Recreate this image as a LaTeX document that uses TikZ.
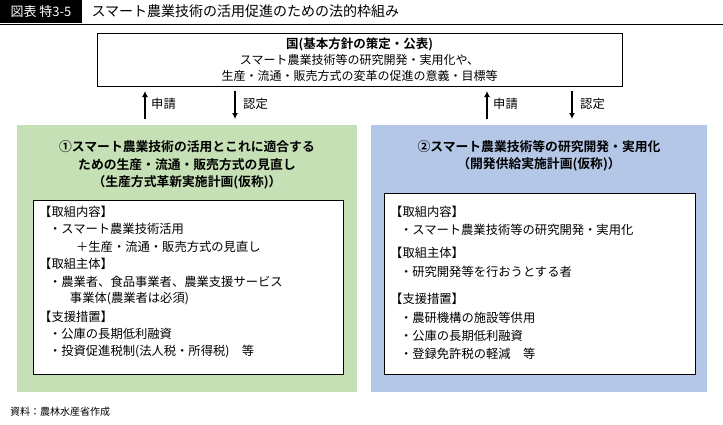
\documentclass[tikz,border=0pt]{standalone}
\usepackage{fontspec}
\setmainfont{Noto Sans CJK JP}
\newfontfamily\jpb{Noto Sans CJK JP Bold}
\definecolor{grn}{HTML}{C5E0B4}
\definecolor{blu}{HTML}{B4C7E7}
\begin{document}
\begin{tikzpicture}[x=1pt,y=-1pt,
  body/.style={anchor=west,font=\fontsize{12.3}{13}\selectfont,inner sep=0pt},
  ttl/.style={font=\jpb\fontsize{12.8}{17.5}\selectfont,align=center},
  arr/.style={-{Latex[length=6pt,width=6pt]},line width=1.6pt}]
\usetikzlibrary{arrows.meta}
\useasboundingbox (0,0) rectangle (723,424);
\fill[black] (0,0) rectangle (82,23);
\node[text=white,font=\fontsize{13}{14}\selectfont] (tag) at (41,11.5) {図表\ 特3-5};
\node[anchor=west,font=\fontsize{14}{15}\selectfont] (title) at (88,11.5) {スマート農業技術の活用促進のための法的枠組み};
\draw[line width=1pt] (0,24) -- (723,24);
\draw[line width=0.8pt,fill=white] (97,33) rectangle (622,86);
\node[font=\jpb\fontsize{12.5}{14}\selectfont] (kuni) at (359.5,44) {国(基本方針の策定・公表)};
\node[font=\fontsize{12}{15.5}\selectfont,align=center] (kunit) at (359.5,68) {スマート農業技術等の研究開発・実用化や、\\生産・流通・販売方式の変革の促進の意義・目標等};
\coordinate (a1t) at (145,91); \coordinate (a1b) at (145,119);
\coordinate (a2t) at (235,91); \coordinate (a2b) at (235,119);
\coordinate (a3t) at (487,91); \coordinate (a3b) at (487,119);
\coordinate (a4t) at (572,91); \coordinate (a4b) at (572,119);
\draw[arr] (a1b) -- (a1t); \draw[arr] (a2t) -- (a2b);
\draw[arr] (a3b) -- (a3t); \draw[arr] (a4t) -- (a4b);
\node[body] (s1) at (151,104) {申請};
\node[body] (n1) at (243,104) {認定};
\node[body] (s2) at (493,104) {申請};
\node[body] (n2) at (580,104) {認定};
\fill[grn] (17,125) rectangle (357,392);
\fill[blu] (371,125) rectangle (707,392);
\node[ttl] (lt) at (187,165) {①スマート農業技術の活用とこれに適合する\\ための生産・流通・販売方式の見直し\\（生産方式革新実施計画(仮称)）};
\node[ttl] (rt) at (539,156) {②スマート農業技術等の研究開発・実用化\\（開発供給実施計画(仮称)）};
\draw[fill=white,line width=0.5pt] (33,200) rectangle (343,374);
\draw[fill=white,line width=0.5pt] (384,193) rectangle (695,374);
\foreach \t/\y [count=\i] in {【取組内容】/212,\hspace{0.8em}・スマート農業技術活用/229,\hspace{3em}＋生産・流通・販売方式の見直し/247,【取組主体】/264,\hspace{0.8em}・農業者、食品事業者、農業支援サービス/282,\hspace{2.5em}事業体(農業者は必須)/299,【支援措置】/317,\hspace{0.8em}・公庫の長期低利融資/334,\hspace{0.8em}・投資促進税制(法人税・所得税)\quad 等/352}
  \node[body] (l\i) at (39,\y) {\t};
\foreach \t/\y [count=\i] in {【取組内容】/212,\hspace{0.8em}・スマート農業技術等の研究開発・実用化/230,【取組主体】/253,\hspace{0.8em}・研究開発等を行おうとする者/272,【支援措置】/299,\hspace{0.8em}・農研機構の施設等供用/318,\hspace{0.8em}・公庫の長期低利融資/336,\hspace{0.8em}・登録免許税の軽減\quad 等/354}
  \node[body] (r\i) at (390,\y) {\t};
\node[anchor=west,font=\fontsize{10}{11}\selectfont,inner sep=0pt] (src) at (10,412) {資料：農林水産省作成};
\end{tikzpicture}
\end{document}
